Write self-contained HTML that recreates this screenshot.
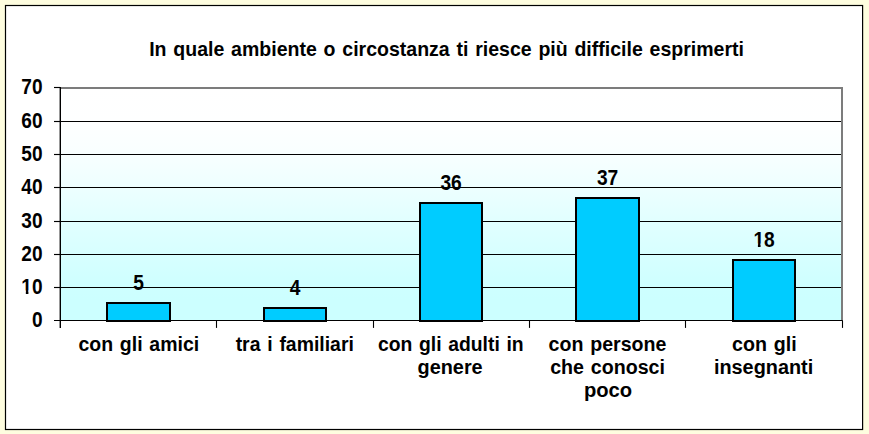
<!DOCTYPE html>
<html lang="it"><head><meta charset="utf-8"><title>In quale ambiente o circostanza ti riesce più difficile esprimerti</title>
<style>html,body{margin:0;padding:0;background:#fefddf;overflow:hidden}svg{display:block}text{font-family:"Liberation Sans",Arial,sans-serif;font-weight:bold;font-size:20px;fill:#000}</style></head><body>
<svg width="869" height="434" viewBox="0 0 869 434">
<defs><linearGradient id="g" x1="0" y1="0" x2="0" y2="1"><stop offset="0" stop-color="rgb(255,255,255)"/><stop offset="0.14" stop-color="rgb(254,255,255)"/><stop offset="0.27" stop-color="rgb(249,255,255)"/><stop offset="0.42" stop-color="rgb(238,255,255)"/><stop offset="0.56" stop-color="rgb(226,255,255)"/><stop offset="0.73" stop-color="rgb(214,255,255)"/><stop offset="0.85" stop-color="rgb(206,255,255)"/><stop offset="0.91" stop-color="rgb(204,255,255)"/><stop offset="1" stop-color="rgb(204,255,255)"/></linearGradient><clipPath id="c10"><path clip-rule="evenodd" d="M-40 -30H40V10H-40ZM-21.74 -2.8H-17.57V1H-21.74ZM-14.83 -2.8H-11.14V1H-14.83Z"/></clipPath><clipPath id="c18"><path clip-rule="evenodd" d="M-40 -30H40V10H-40ZM-10.62 -2.8H-6.45V1H-10.62ZM-3.71 -2.8H-0.02V1H-3.71Z"/></clipPath></defs>
<rect width="869" height="434" fill="#fefddf"/>
<rect x="5.5" y="5.5" width="857.1" height="424" fill="#fff" stroke="#000" stroke-width="1.2"/>
<rect x="60.2" y="88.0" width="781.80" height="232.50" fill="url(#g)"/>
<path d="M60.2 88.0H842.0V320.5" fill="none" stroke="#7c7c7c" stroke-width="2"/>
<line x1="60.2" x2="841.0" y1="287.5" y2="287.5" stroke="#000" stroke-width="1.1"/>
<line x1="60.2" x2="841.0" y1="254.5" y2="254.5" stroke="#000" stroke-width="1.1"/>
<line x1="60.2" x2="841.0" y1="221.5" y2="221.5" stroke="#000" stroke-width="1.1"/>
<line x1="60.2" x2="841.0" y1="187.5" y2="187.5" stroke="#000" stroke-width="1.1"/>
<line x1="60.2" x2="841.0" y1="154.5" y2="154.5" stroke="#000" stroke-width="1.1"/>
<line x1="60.2" x2="841.0" y1="121.5" y2="121.5" stroke="#000" stroke-width="1.1"/>
<rect x="107" y="303" width="63" height="18" fill="#00ccff" stroke="#000" stroke-width="2"/>
<rect x="264" y="308" width="62" height="13" fill="#00ccff" stroke="#000" stroke-width="2"/>
<rect x="420" y="203" width="62" height="118" fill="#00ccff" stroke="#000" stroke-width="2"/>
<rect x="576" y="198" width="63" height="123" fill="#00ccff" stroke="#000" stroke-width="2"/>
<rect x="733" y="260" width="62" height="61" fill="#00ccff" stroke="#000" stroke-width="2"/>
<line x1="60.3" x2="60.3" y1="87.0" y2="327.9" stroke="#000" stroke-width="1.4"/>
<line x1="54.0" x2="842.7" y1="320.5" y2="320.5" stroke="#000" stroke-width="1.15"/>
<text transform="translate(42.60 326.70) scale(0.955 1.11)" text-anchor="end">0</text>
<line x1="54.0" x2="60.2" y1="287.5" y2="287.5" stroke="#000" stroke-width="1.15"/>
<text transform="translate(42.60 293.70) scale(0.955 1.11)" text-anchor="end" clip-path="url(#c10)">10</text>
<line x1="54.0" x2="60.2" y1="254.5" y2="254.5" stroke="#000" stroke-width="1.15"/>
<text transform="translate(42.60 260.70) scale(0.955 1.11)" text-anchor="end">20</text>
<line x1="54.0" x2="60.2" y1="221.5" y2="221.5" stroke="#000" stroke-width="1.15"/>
<text transform="translate(42.60 227.70) scale(0.955 1.11)" text-anchor="end">30</text>
<line x1="54.0" x2="60.2" y1="187.5" y2="187.5" stroke="#000" stroke-width="1.15"/>
<text transform="translate(42.60 193.70) scale(0.955 1.11)" text-anchor="end">40</text>
<line x1="54.0" x2="60.2" y1="154.5" y2="154.5" stroke="#000" stroke-width="1.15"/>
<text transform="translate(42.60 160.70) scale(0.955 1.11)" text-anchor="end">50</text>
<line x1="54.0" x2="60.2" y1="121.5" y2="121.5" stroke="#000" stroke-width="1.15"/>
<text transform="translate(42.60 127.70) scale(0.955 1.11)" text-anchor="end">60</text>
<line x1="54.0" x2="60.2" y1="87.5" y2="87.5" stroke="#000" stroke-width="1.15"/>
<text transform="translate(42.60 94.20) scale(0.955 1.11)" text-anchor="end">70</text>
<line x1="216.5" x2="216.5" y1="320.5" y2="327.9" stroke="#000" stroke-width="1.1"/>
<line x1="373.5" x2="373.5" y1="320.5" y2="327.9" stroke="#000" stroke-width="1.1"/>
<line x1="529.5" x2="529.5" y1="320.5" y2="327.9" stroke="#000" stroke-width="1.1"/>
<line x1="685.5" x2="685.5" y1="320.5" y2="327.9" stroke="#000" stroke-width="1.1"/>
<line x1="842.5" x2="842.5" y1="320.5" y2="327.9" stroke="#000" stroke-width="1.1"/>
<text transform="translate(138.60 289.70) scale(0.96 1.11)" text-anchor="middle">5</text>
<text transform="translate(295.10 294.70) scale(0.96 1.11)" text-anchor="middle">4</text>
<text transform="translate(451.10 189.70) scale(0.96 1.11)" text-anchor="middle">36</text>
<text transform="translate(607.60 184.70) scale(0.96 1.11)" text-anchor="middle">37</text>
<text transform="translate(764.10 246.70) scale(0.96 1.11)" text-anchor="middle" clip-path="url(#c18)">18</text>
<text transform="translate(138.78 351.30) scale(0.9745 1.05)" text-anchor="middle" word-spacing="1.4">con gli amici</text>
<text transform="translate(294.74 351.30) scale(0.9711 1.05)" text-anchor="middle" word-spacing="1.4">tra i familiari</text>
<text transform="translate(450.80 351.30) scale(0.9663 1.05)" text-anchor="middle" word-spacing="1.4">con gli adulti in</text>
<text transform="translate(450.10 374.30) scale(0.994 1.05)" text-anchor="middle">genere</text>
<text transform="translate(607.46 351.30) scale(0.9805 1.05)" text-anchor="middle" word-spacing="1.4">con persone</text>
<text transform="translate(607.56 374.30) scale(0.9811 1.05)" text-anchor="middle" word-spacing="1.4">che conosci</text>
<text transform="translate(608.06 396.80) scale(1.01 1.05)" text-anchor="middle">poco</text>
<text transform="translate(764.42 351.30) scale(0.9817 1.05)" text-anchor="middle" word-spacing="1.4">con gli</text>
<text transform="translate(763.57 374.30) scale(0.993 1.05)" text-anchor="middle">insegnanti</text>
<text transform="translate(149.20 55.90) scale(0.9764 1.05)" text-anchor="start" word-spacing="1.4">In quale ambiente o circostanza ti riesce più difficile esprimerti</text>
</svg></body></html>
